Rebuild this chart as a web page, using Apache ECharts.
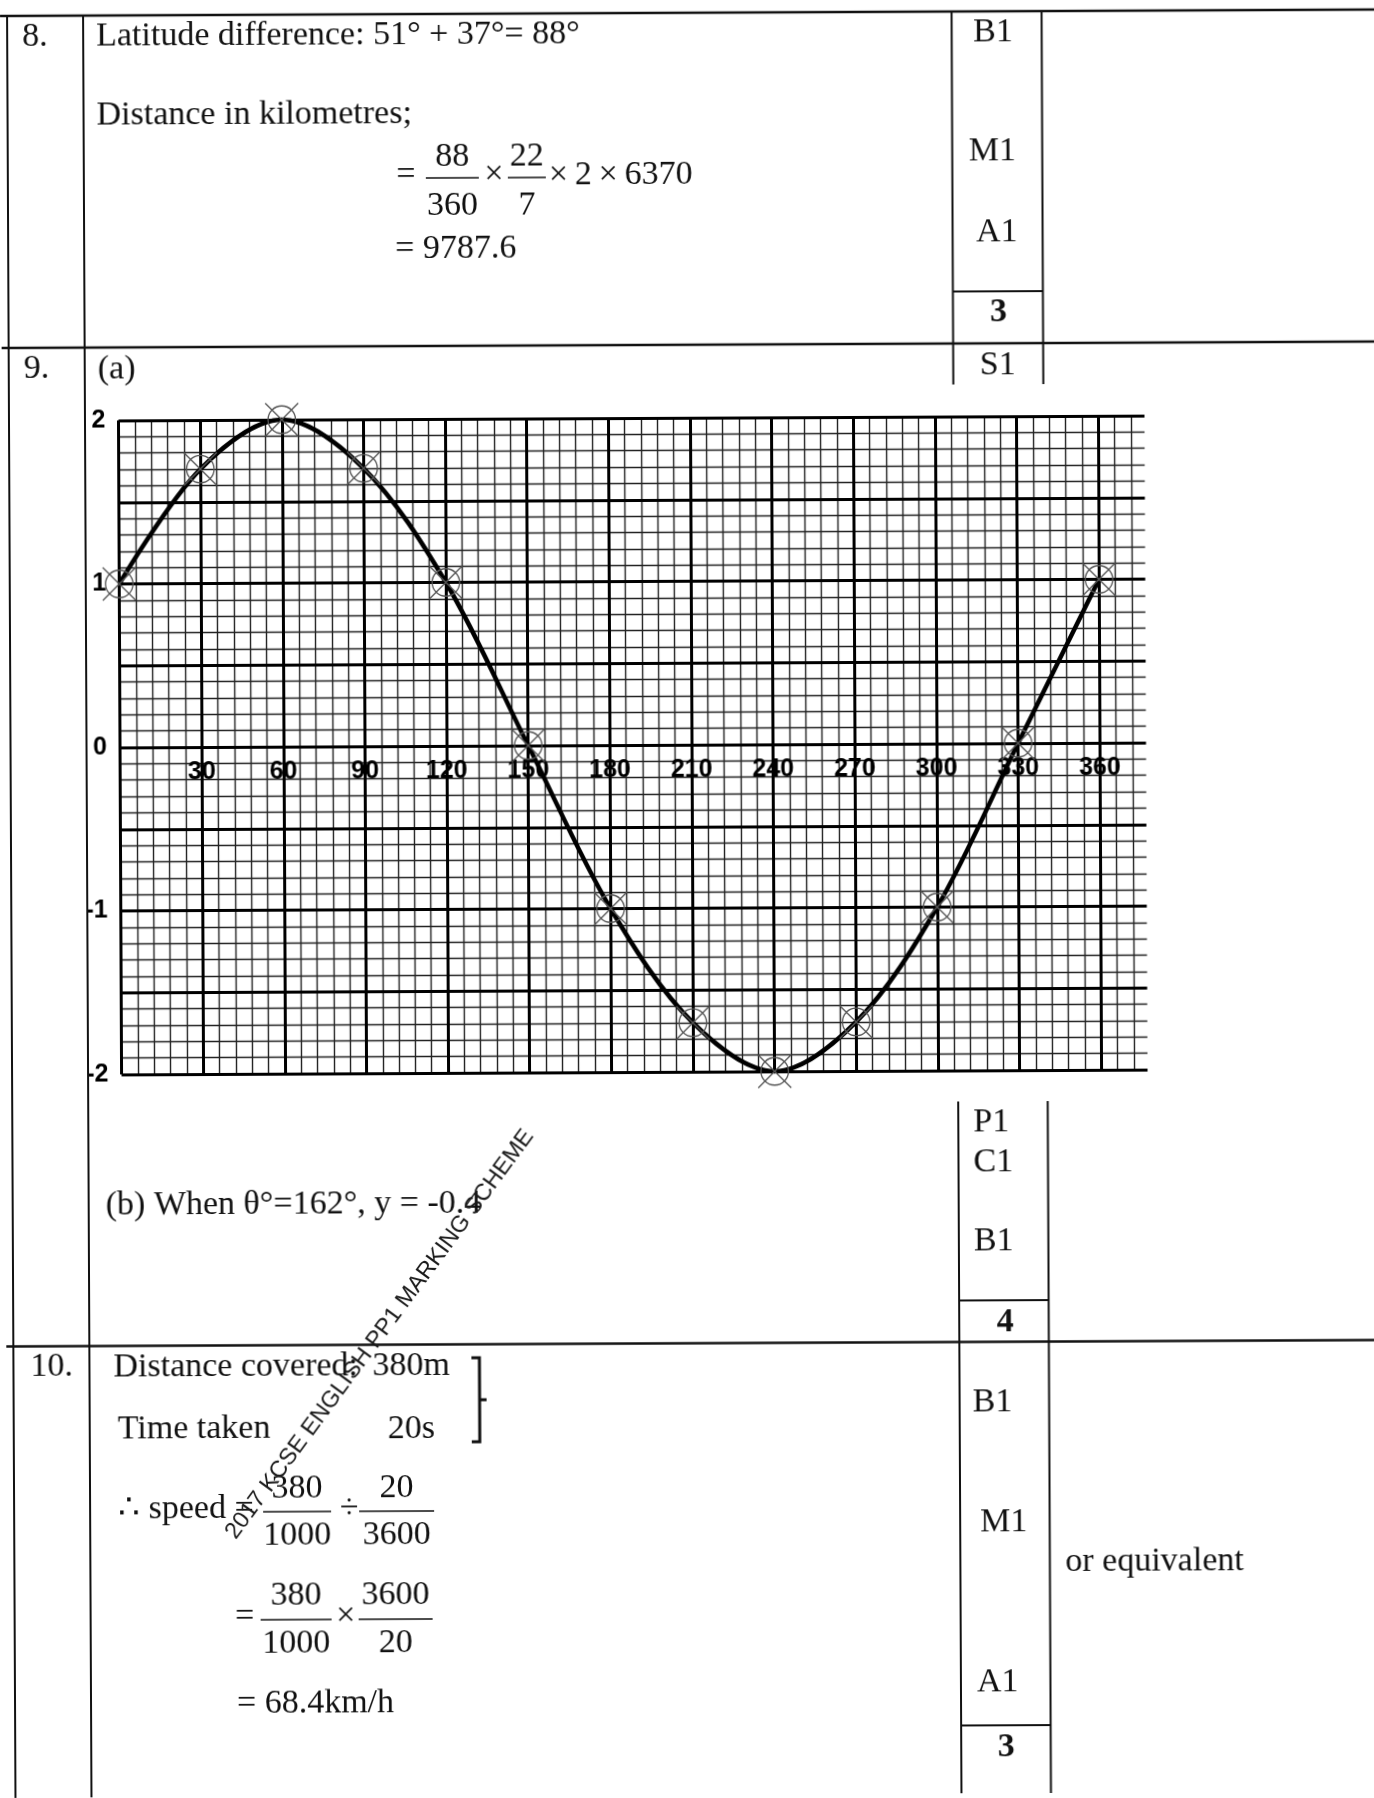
<!DOCTYPE html>
<html>
<head>
    <meta charset="utf-8">
    <title>Marking scheme - graph of y against θ</title>
    <script src="https://cdn.jsdelivr.net/npm/echarts@6/dist/echarts.min.js"></script>
    <style>
        html, body { margin: 0; padding: 0; background: #fff; overflow: hidden; }
        /* the scanned page is slightly skewed */
        #main { position: absolute; left: 0; top: 0; width: 1374px; height: 1798px;
                transform: rotate(-0.27deg); transform-origin: 0 0; }
    </style>
</head>
<body>
    <div id="main"></div>
    <script type="text/javascript">
        // chart data (read from the plotted points)
        var theta = [0, 30, 60, 90, 120, 150, 180, 210, 240, 270, 300, 330, 360];
        var yValues = [1, 1.7, 2, 1.7, 1, 0, -1, -1.7, -2, -1.7, -1, 0, 1];
        var xTickLabels = ['30', '60', '90', '120', '150', '180', '210', '240', '270', '300', '330', '360'];
        var yTickLabels = ['-2', '-1', '0', '1', '2'];
        var xMax = 377;   // graph paper runs a little past 360

        var SERIF = '"Liberation Serif", "Times New Roman", serif';
        var SANS = '"Liberation Sans", Arial, sans-serif';
        var INK = '#111';

        // graph paper area
        var gLeft = 116.5, gTop = 421, gWidth = 1026, gHeight = 654;

        // text placed by its baseline
        function txt(s, x, base, align, weight, size) {
            size = size || 34;
            return {
                type: 'text', x: x, y: base - size * 0.33, silent: true, z: 10,
                style: { text: s, font: (weight || 'normal') + ' ' + size + 'px ' + SERIF,
                         fill: INK, align: align || 'left', verticalAlign: 'middle' }
            };
        }
        // operator sign centred on a fraction bar
        function op(s, x, yMid) {
            return {
                type: 'text', x: x, y: yMid - 3, silent: true, z: 10,
                style: { text: s, font: '34px ' + SERIF, fill: INK, align: 'center', verticalAlign: 'middle' }
            };
        }
        function ln(x1, y1, x2, y2, w) {
            return { type: 'line', silent: true, z: 5, shape: { x1: x1, y1: y1, x2: x2, y2: y2 },
                     style: { stroke: INK, lineWidth: w || 2 } };
        }
        // fraction: numerator, denominator centred on the bar
        function frac(num, den, x1, x2, barY, numBase, denBase) {
            var c = (x1 + x2) / 2;
            return [ln(x1, barY, x2, barY, 1.6), txt(num, c, numBase, 'center'), txt(den, c, denBase, 'center')];
        }

        var els = [];
        // table rules
        els.push(ln(0, 16, 1380, 16, 2.5));
        els.push(ln(0, 348, 1380, 348, 2.5));
        els.push(ln(0, 1346.5, 1380, 1346.5, 2.5));
        els.push(ln(7, 16, 7, 1810, 2));
        els.push(ln(83, 16, 83, 1810, 2));
        els.push(ln(951.5, 16, 951.5, 389, 2));
        els.push(ln(1041.5, 16, 1041.5, 389, 2));
        els.push(ln(953, 1106, 953, 1810, 2));
        els.push(ln(1042.5, 1106, 1042.5, 1810, 2));
        els.push(ln(952, 296, 1042, 296, 2));
        els.push(ln(953, 1305, 1043, 1305, 2));
        els.push(ln(953, 1730, 1043, 1730, 2));

        // question 8
        els.push(txt('8.', 22, 48));
        els.push(txt('Latitude difference: 51° + 37°= 88°', 96, 48));
        els.push(txt('B1', 973, 48));
        els.push(txt('Distance in kilometres;', 96, 127));
        els.push(txt('M1', 968, 167));
        els.push(op('=', 405, 180));
        els = els.concat(frac('88', '360', 425, 478, 180, 170, 219));
        els.push(op('×', 493, 180));
        els = els.concat(frac('22', '7', 507, 545, 180, 170, 219));
        els.push(txt('×\u20092\u2009×\u20096370', 548, 189));
        els.push(txt('= 9787.6', 394, 262));
        els.push(txt('A1', 975, 248));
        els.push(txt('3', 997, 328, 'center', 'bold'));

        // question 9
        els.push(txt('9.', 22, 380));
        els.push(txt('(a)', 96, 381));
        els.push(txt('S1', 978, 381));
        els.push(txt('P1', 968, 1138));
        els.push(txt('C1', 968, 1178));
        els.push(txt('(b) When θ°=162°, y = -0.4', 100, 1217));
        els.push(txt('B1', 968, 1257));
        els.push(txt('4', 999, 1338, 'center', 'bold'));

        // question 10
        els.push(txt('10.', 24, 1378));
        els.push(txt('Distance covered:', 107, 1379));
        els.push(txt('380m', 366, 1379));
        els.push(txt('Time taken', 111, 1441));
        els.push(txt('20s', 381, 1442));
        els.push({ type: 'polyline', silent: true, z: 5,
                   shape: { points: [[465, 1360], [473, 1360], [473, 1444], [465, 1444]] },
                   style: { stroke: INK, lineWidth: 3, fill: null } });
        els.push(ln(473, 1402, 480, 1402, 3));
        els.push(txt('B1', 966, 1418));
        els.push(txt('∴ speed =', 111, 1521));
        els = els.concat(frac('380', '1000', 256, 324, 1513, 1501, 1548));
        els.push(op('÷', 342, 1513));
        els = els.concat(frac('20', '3600', 352, 427, 1513, 1501, 1548));
        els.push(txt('M1', 973, 1538));
        els.push(txt('or equivalent', 1058, 1578));
        els.push(op('=', 237, 1621));
        els = els.concat(frac('380', '1000', 253, 324, 1621, 1608, 1656));
        els.push(op('×', 338, 1621));
        els = els.concat(frac('3600', '20', 351, 425, 1621, 1608, 1656));
        els.push(txt('A1', 969, 1698));
        els.push(txt('= 68.4km/h', 229, 1716));
        els.push(txt('3', 998, 1763, 'center', 'bold'));

        // watermark
        els.push({ type: 'text', x: 373.5, y: 1336, rotation: 53.3 * Math.PI / 180, silent: true, z: 20,
                   style: { text: '2017 KCSE ENGLISH PP1 MARKING SCHEME', font: '23.3px ' + SANS,
                            fill: '#1a1a1a', align: 'center', verticalAlign: 'middle' } });

        var myChart = echarts.init(document.getElementById('main'));

        var option = {
            animation: false,
            backgroundColor: '#fff',
            grid: [
                { left: gLeft, top: gTop, width: gWidth, height: gHeight, containLabel: false, outerBoundsMode: 'none' },
                // lower half only: its top edge is the y = 0 line, used to hang the angle labels
                { left: gLeft, top: gTop + gHeight / 2, width: gWidth, height: gHeight / 2, containLabel: false, outerBoundsMode: 'none' }
            ],
            xAxis: [{
                // bold lines every 30 degrees
                type: 'value', gridIndex: 0, min: 0, max: xMax, interval: 30, z: 2,
                axisLine: { show: false, onZero: false },
                axisTick: { show: false },
                axisLabel: { show: false },
                splitLine: { show: true, showMaxLine: false, lineStyle: { color: '#000', width: 3 } }
            }, {
                // fine lines every 6 degrees
                type: 'value', gridIndex: 0, min: 0, max: xMax, interval: 6, position: 'top', z: 1,
                axisLine: { show: false, onZero: false },
                axisTick: { show: false },
                axisLabel: { show: false },
                splitLine: { show: true, showMaxLine: false, lineStyle: { color: '#222', width: 1.4 } }
            }, {
                // angle labels just under the zero line
                type: 'value', gridIndex: 1, min: 0, max: xMax, interval: 30, position: 'top', z: 3,
                axisLine: { show: false, onZero: false },
                axisTick: { show: false },
                splitLine: { show: false },
                axisLabel: {
                    inside: true, margin: 13, color: '#000', fontSize: 25, fontWeight: 'bold', fontFamily: SANS,
                    formatter: function (v) { var s = String(v); return xTickLabels.indexOf(s) >= 0 ? s : ''; }
                }
            }],
            yAxis: [{
                type: 'value', gridIndex: 0, min: -2, max: 2, interval: 0.5, z: 2,
                axisLine: { show: false, onZero: false },
                axisTick: { show: false },
                axisLabel: {
                    margin: 13, color: '#000', fontSize: 25, fontWeight: 'bold', fontFamily: SANS,
                    formatter: function (v) { var s = String(v); return yTickLabels.indexOf(s) >= 0 ? s : ''; }
                },
                splitLine: { show: true, lineStyle: { color: '#000', width: 3 } },
                minorTick: { show: false, splitNumber: 5 },
                minorSplitLine: { show: true, lineStyle: { color: '#222', width: 1.4 } }
            }, {
                type: 'value', gridIndex: 1, min: -2, max: 0, show: false
            }],
            series: [{
                type: 'line',
                xAxisIndex: 0,
                yAxisIndex: 0,
                data: theta.map(function (t, i) { return [t, yValues[i]]; }),
                smooth: 0.33,
                clip: false,
                z: 5,
                // circled cross used for each plotted point
                symbol: 'path://M2,12A10,10 0 1,0 22,12A10,10 0 1,0 2,12ZM0,0L24,24M24,0L0,24',
                symbolSize: 33,
                showAllSymbol: true,
                itemStyle: { color: 'rgba(0,0,0,0)', borderColor: '#555', borderWidth: 1.3 },
                lineStyle: { color: '#000', width: 4.5 },
                emphasis: { disabled: true }
            }],
            graphic: { elements: els }
        };

        myChart.setOption(option);
    </script>
</body>
</html>
